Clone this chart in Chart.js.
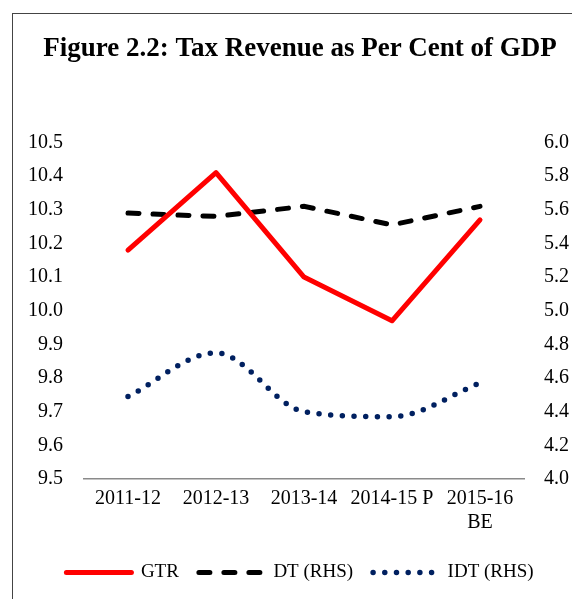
<!DOCTYPE html>
<html lang="en">
<head>
    <meta charset="UTF-8">
    <title>Tax Revenue as Per Cent of GDP</title>
    <style>
        html, body { margin: 0; background: #fff; overflow: hidden; }
        #wrap { position: relative; width: 572px; height: 599px; overflow: hidden; }
        #taxChart { position: absolute; left: 0; top: 0; }
        #frame { position: absolute; left: 12px; top: 13px; width: 600px; height: 600px;
                 border-left: 1px solid #444; border-top: 1px solid #444; pointer-events: none; }
    </style>
</head>
<body>
    <div id="wrap">
        <!-- canvas is a bit wider than the window: the figure's right edge is cropped in the original -->
        <canvas id="taxChart" width="600" height="599"></canvas>
        <div id="frame"></div>
    </div>
    <script src="https://cdn.jsdelivr.net/npm/chart.js"></script>
    <script>
        // Values
        const years = ['2011-12', '2012-13', '2013-14', '2014-15 P', ['2015-16', 'BE']];
        const gtr = [10.18, 10.41, 10.10, 9.97, 10.27];   // left axis
        const dt = [5.58, 5.56, 5.62, 5.51, 5.62];         // right axis
        const idt = [4.49, 4.75, 4.40, 4.37, 4.57];        // right axis

        const serif = '"Liberation Serif", "Times New Roman", serif';

        // legend items keep the dataset line style (dash, cap, width)
        function legendItems(chart) {
            return chart.data.datasets.map((ds, i) => ({
                text: ds.label,
                datasetIndex: i,
                fillStyle: ds.borderColor,
                strokeStyle: ds.borderColor,
                lineWidth: ds.borderWidth,
                lineDash: ds.borderDash || [],
                lineCap: ds.borderCapStyle || 'butt',
                pointStyle: 'line',
                fontColor: '#000',
                hidden: false
            }));
        }

        const ctx = document.getElementById('taxChart').getContext('2d');
        new Chart(ctx, {
            type: 'line',
            data: {
                labels: years,
                datasets: [
                    {
                        label: 'GTR',
                        data: gtr,
                        borderColor: '#ff0000',
                        borderWidth: 5,
                        borderCapStyle: 'round',
                        borderJoinStyle: 'round',
                        pointRadius: 0,
                        yAxisID: 'yL'
                    },
                    {
                        label: 'DT (RHS)',
                        data: dt,
                        borderColor: '#000000',
                        borderWidth: 5,
                        borderDash: [11, 14],
                        borderCapStyle: 'round',
                        pointRadius: 0,
                        yAxisID: 'yR'
                    },
                    {
                        label: 'IDT (RHS)',
                        data: idt,
                        borderColor: '#002060',
                        borderWidth: 5.5,
                        borderDash: [0, 11.7],
                        borderCapStyle: 'round',
                        cubicInterpolationMode: 'monotone',
                        pointRadius: 0,
                        yAxisID: 'yR'
                    }
                ]
            },
            options: {
                responsive: false,
                animation: false,
                layout: { padding: { top: 0, bottom: 7, left: 0, right: 0 } },
                plugins: {
                    title: {
                        display: true,
                        text: 'Figure 2.2: Tax Revenue as Per Cent of GDP',
                        color: '#000',
                        font: { family: serif, size: 27, weight: 'bold' },
                        padding: { top: 33, bottom: 77 }
                    },
                    legend: {
                        position: 'bottom',
                        labels: {
                            usePointStyle: true,
                            pointStyleWidth: 65,
                            color: '#000',
                            font: { family: serif, size: 19 },
                            padding: 20,
                            generateLabels: legendItems
                        }
                    },
                    tooltip: { enabled: false }
                },
                scales: {
                    x: {
                        offset: true,
                        grid: { display: false, drawTicks: false },
                        border: { color: '#8a8a8a', width: 1.5 },
                        ticks: { color: '#000', font: { family: serif, size: 20 }, padding: 8, maxRotation: 0 },
                        afterFit: (s) => { s.height = 64; }
                    },
                    yL: {
                        type: 'linear',
                        position: 'left',
                        min: 9.5,
                        max: 10.5,
                        grid: { display: false, drawTicks: false },
                        border: { display: false },
                        ticks: {
                            stepSize: 0.1,
                            color: '#000',
                            font: { family: serif, size: 20 },
                            padding: 21,
                            callback: (v) => v.toFixed(1)
                        },
                        afterFit: (s) => { s.width = 84; }
                    },
                    yR: {
                        type: 'linear',
                        position: 'right',
                        min: 4.0,
                        max: 6.0,
                        grid: { display: false, drawTicks: false },
                        border: { display: false },
                        ticks: {
                            stepSize: 0.2,
                            color: '#000',
                            font: { family: serif, size: 20 },
                            padding: 20,
                            callback: (v) => v.toFixed(1)
                        },
                        afterFit: (s) => { s.width = 76; }
                    }
                }
            }
        });
    </script>
</body>
</html>
